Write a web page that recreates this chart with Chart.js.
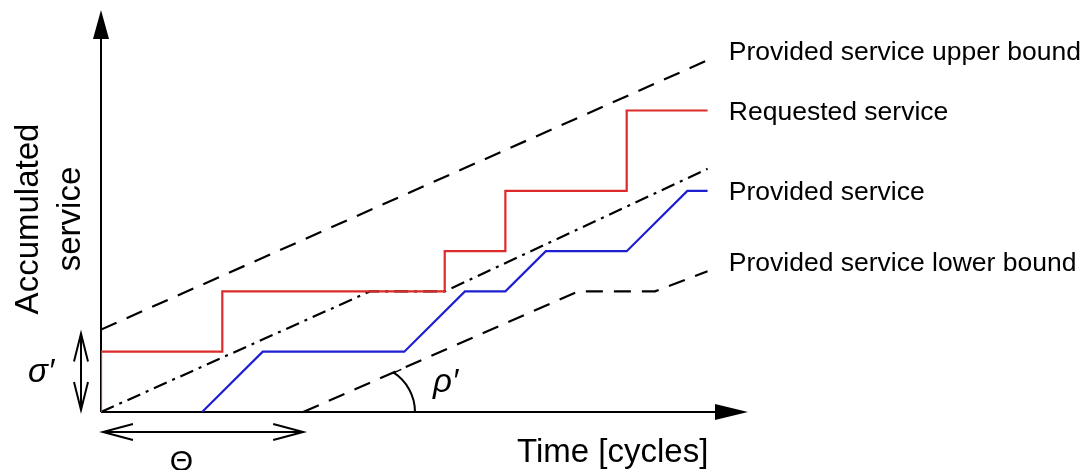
<!DOCTYPE html>
<html>
<head>
<meta charset="utf-8">
<script src="https://cdn.jsdelivr.net/npm/chart.js@4/dist/chart.umd.min.js"></script>
<style>
  html, body { margin: 0; padding: 0; background: #ffffff; }
  #wrap { width: 1085px; height: 470px; }
</style>
</head>
<body>
<div id="wrap"><canvas id="c" width="1085" height="470"></canvas></div>
<script>
// Time axis runs 0..32 cycles, accumulated service 0..20 units.
const requestedX = [0, 0, 6, 6, 17, 17, 20, 20, 26, 26, 30];
const requestedY = [0, 3, 3, 6, 6, 8, 8, 11, 11, 15, 15];

const providedX = [5, 8, 15, 18, 20, 22, 26, 29, 30];
const providedY = [0, 3, 3, 6, 6, 8, 8, 11, 11];

const upperX = [0, 30];
const upperY = [4.1, 17.5];

const rateX = [0, 13.3, 17, 30];
const rateY = [0, 6, 6, 12.1];

const lowerX = [10, 23.6, 27.4, 30];
const lowerY = [0, 6, 6, 7];

const seriesLabels = [
  'Provided service upper bound',
  'Requested service',
  'Provided service',
  'Provided service lower bound'
];
const xAxisTitle = 'Time [cycles]';
const yAxisTitle = ['Accumulated', 'service'];

const toPoints = (xs, ys) => xs.map((v, i) => ({ x: v, y: ys[i] }));

const FONT = '"Liberation Sans", Arial, Helvetica, sans-serif';

function openHead(ctx, tx, ty, ux, uy, len, half) {
  // open chevron whose tip is at (tx, ty), pointing along (ux, uy)
  const bx = tx - ux * len, by = ty - uy * len;
  const px = -uy * half, py = ux * half;
  ctx.beginPath();
  ctx.moveTo(bx + px, by + py);
  ctx.lineTo(tx, ty);
  ctx.lineTo(bx - px, by - py);
  ctx.stroke();
}

const diagram = {
  id: 'diagram',
  beforeDatasetsDraw(chart) {
    const { ctx, scales: { x, y } } = chart;
    const x0 = x.getPixelForValue(0), y0 = y.getPixelForValue(0);
    const xEnd = x.getPixelForValue(x.max), yEnd = y.getPixelForValue(y.max);
    ctx.save();
    ctx.strokeStyle = '#000';
    ctx.fillStyle = '#000';
    ctx.lineWidth = 2;
    // time axis with filled arrow head
    ctx.beginPath(); ctx.moveTo(x0, y0); ctx.lineTo(xEnd - 30, y0); ctx.stroke();
    ctx.beginPath(); ctx.moveTo(xEnd, y0); ctx.lineTo(xEnd - 33, y0 - 8); ctx.lineTo(xEnd - 33, y0 + 8); ctx.closePath(); ctx.fill();
    // service axis with filled arrow head
    ctx.beginPath(); ctx.moveTo(x0, y0); ctx.lineTo(x0, yEnd + 26); ctx.stroke();
    ctx.beginPath(); ctx.moveTo(x0, yEnd); ctx.lineTo(x0 - 8, yEnd + 29); ctx.lineTo(x0 + 8, yEnd + 29); ctx.closePath(); ctx.fill();
    ctx.restore();
  },
  afterDraw(chart) {
    const { ctx, scales: { x, y } } = chart;
    const x0 = x.getPixelForValue(0), y0 = y.getPixelForValue(0);
    ctx.save();
    ctx.strokeStyle = '#000';
    ctx.fillStyle = '#000';
    ctx.lineWidth = 2;

    // sigma' : burst size, from 0 to the upper bound's intercept
    const sx = x0 - 20;
    const sTop = y.getPixelForValue(upperY[0]) + 4;
    ctx.beginPath(); ctx.moveTo(sx, sTop); ctx.lineTo(sx, y0 - 2); ctx.stroke();
    openHead(ctx, sx, sTop, 0, -1, 28, 7);
    openHead(ctx, sx, y0 - 2, 0, 1, 28, 7);

    // Theta : latency, from 0 to the lower bound's intercept
    const ty = y0 + 20;
    const tRight = x.getPixelForValue(lowerX[0]);
    ctx.beginPath(); ctx.moveTo(x0 + 2, ty); ctx.lineTo(tRight, ty); ctx.stroke();
    openHead(ctx, x0 + 2, ty, -1, 0, 30, 8);
    openHead(ctx, tRight, ty, 1, 0, 30, 8);

    // rho' : angle arc under the lower bound
    const cx = x.getPixelForValue(13.2);
    const r = x.getPixelForValue(15.53) - cx;
    const a1 = -1.0;
    ctx.beginPath(); ctx.arc(cx, y0, r, 0, a1, true); ctx.stroke();
    const ex = cx + r * Math.cos(a1), ey = y0 + r * Math.sin(a1);
    ctx.lineWidth = 1.6;
    ctx.beginPath(); ctx.moveTo(ex - 1, ey + 1); ctx.lineTo(ex + 8, ey - 3); ctx.stroke();

    // axis titles
    ctx.textAlign = 'center';
    ctx.textBaseline = 'alphabetic';
    ctx.font = '33px ' + FONT;
    [38, 80].forEach((bx, i) => {
      ctx.save();
      ctx.translate(bx, 219);
      ctx.rotate(-Math.PI / 2);
      ctx.fillText(yAxisTitle[i], 0, 0);
      ctx.restore();
    });
    ctx.textAlign = 'left';
    ctx.fillText(xAxisTitle, 517, 462);

    // symbols
    ctx.font = '30px ' + FONT;
    ctx.textAlign = 'center';
    ctx.fillText('\u0398', 181.5, 471);
    ctx.textAlign = 'left';
    ctx.font = 'italic 33px ' + FONT;
    ctx.fillText('\u03C3\u2032', 28, 382);
    ctx.fillText('\u03C1\u2032', 433, 392);

    // series names to the right of the curves
    ctx.font = '26.5px ' + FONT;
    const lx = x.getPixelForValue(31.05);
    const rows = [60, 119.5, 200, 271];
    seriesLabels.forEach((t, i) => ctx.fillText(t, lx, rows[i]));
    ctx.restore();
  }
};

const line = (data, color, dash) => ({
  data, borderColor: color, borderWidth: 2.2, borderDash: dash || [],
  showLine: true, pointRadius: 0, fill: false, tension: 0
});

new Chart(document.getElementById('c'), {
  type: 'scatter',
  data: {
    datasets: [
      line(toPoints(requestedX, requestedY), '#dd2a2a'),
      line(toPoints(providedX, providedY), '#1f1fd2'),
      line(toPoints(upperX, upperY), '#000000', [17, 11]),
      line(toPoints(lowerX, lowerY), '#000000', [17, 11]),
      line(toPoints(rateX, rateY), '#000000', [14, 6, 3, 6])
    ]
  },
  options: {
    responsive: false,
    animation: false,
    events: [],
    layout: { padding: { left: 101, right: 337, top: 10, bottom: 58 } },
    scales: {
      x: { type: 'linear', min: 0, max: 32, display: false },
      y: { type: 'linear', min: 0, max: 20, display: false }
    },
    plugins: { legend: { display: false }, tooltip: { enabled: false } }
  },
  plugins: [diagram]
});
</script>
</body>
</html>
